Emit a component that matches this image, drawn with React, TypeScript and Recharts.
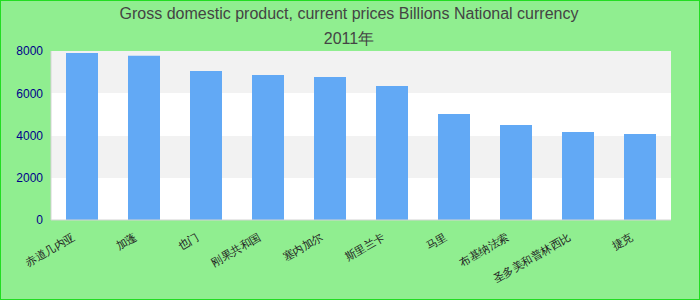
import { BarChart, Bar, XAxis, YAxis, CartesianGrid } from 'recharts';

// x labels are tofu in the reference; these are best guesses at the Chinese names
const countries = [
  '赤道几内亚',
  '加蓬',
  '也门',
  '刚果共和国',
  '塞内加尔',
  '斯里兰卡',
  '马里',
  '布基纳法索',
  '圣多美和普林西比',
  '捷克',
];
const gdp = [7905, 7770, 7053, 6864, 6769, 6343, 5018, 4497, 4166, 4071];
const yTicks = [0, 2000, 4000, 6000, 8000];

const titleLine1 = 'Gross domestic product, current prices Billions National currency';
const titleLine2 = '2011年';

const chartData = countries.map((name, i) => ({ name, value: gdp[i] }));

function CountryTick({ x, y, payload }: { x?: number; y?: number; payload?: { value: string } }) {
  return (
    <g transform={`translate(${(x ?? 0) - 6},${(y ?? 0) + 11})`}>
      <text textAnchor="end" transform="rotate(-30)" fontSize={11} fill="#222">
        {payload?.value}
      </text>
    </g>
  );
}

export default function App() {
  return (
    <div
      style={{
        position: 'absolute',
        left: 0,
        top: 0,
        width: 700,
        height: 300,
        background: '#90ee90',
        border: '1px solid #22dd22',
        boxSizing: 'border-box',
        fontFamily: '"Liberation Sans", Arial, sans-serif',
      }}
    >
      <div style={{ position: 'absolute', left: -2, top: 2, width: 700, textAlign: 'center', fontSize: 16, color: '#444', lineHeight: '22px' }}>
        {titleLine1}
      </div>
      <div style={{ position: 'absolute', left: -2, top: 27, width: 700, textAlign: 'center', fontSize: 16, color: '#444', lineHeight: '22px' }}>
        {titleLine2}
      </div>
      <div style={{ position: 'absolute', left: -1, top: -1 }}>
        <BarChart width={700} height={300} data={chartData} margin={{ top: 51, right: 29, bottom: 20, left: 9 }}>
          <CartesianGrid vertical={false} stroke="none" horizontalFill={['#f2f2f2', '#ffffff']} />
          <XAxis
            dataKey="name"
            interval={0}
            height={60}
            tickLine={false}
            axisLine={{ stroke: '#d3d3d3' }}
            tick={<CountryTick />}
          />
          <XAxis xAxisId="top" dataKey="name" orientation="top" height={0} tick={false} tickLine={false} axisLine={{ stroke: '#d3d3d3' }} />
          <YAxis
            domain={[0, 8000]}
            ticks={yTicks}
            width={42}
            tickLine={false}
            axisLine={{ stroke: '#d3d3d3' }}
            tick={{ fontSize: 12, fill: '#00008b' }}
          />
          <YAxis yAxisId="right" orientation="right" width={0} domain={[0, 8000]} tick={false} tickLine={false} axisLine={{ stroke: '#d3d3d3' }} />
          <Bar dataKey="value" fill="#62a9f5" barSize={32} isAnimationActive={false} />
        </BarChart>
      </div>
    </div>
  );
}
